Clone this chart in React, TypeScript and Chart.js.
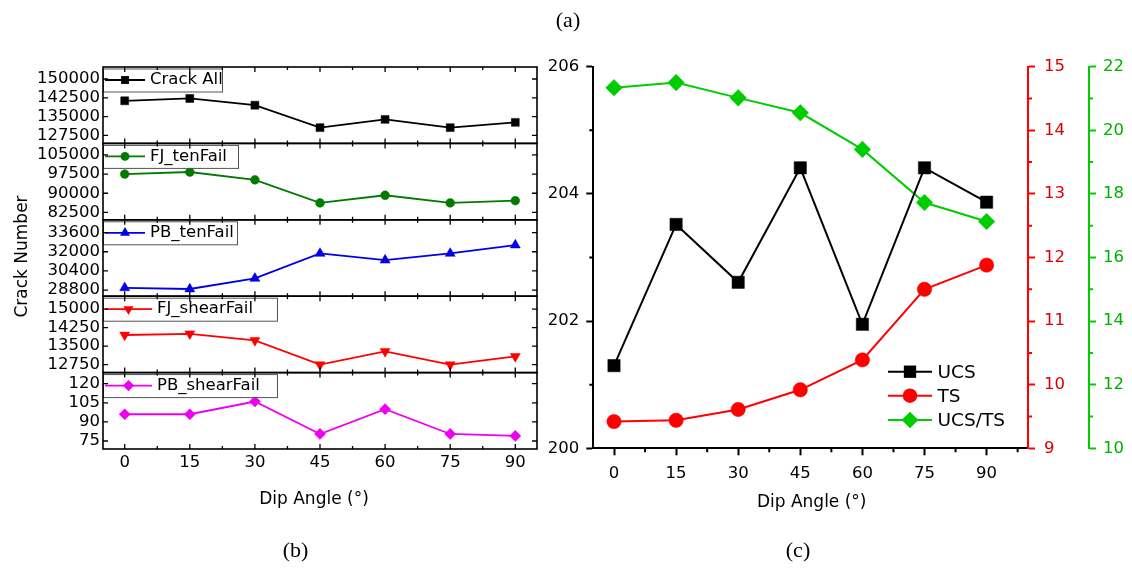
import React, { useEffect, useRef } from 'react';
import { Chart, registerables } from 'chart.js';

Chart.register(...registerables);

// ---------- data ----------
const dipAngles = [0, 15, 30, 45, 60, 75, 90];
const dipTicks = [0, 15, 30, 45, 60, 75, 90];

const crackAll = [141300, 142250, 139560, 130600, 133900, 130600, 132700];
const fjTenFail = [97500, 98300, 95260, 86200, 89200, 86200, 87100];
const pbTenFail = [29000, 28900, 29780, 31860, 31300, 31860, 32560];
const fjShearFail = [13950, 14000, 13730, 12750, 13285, 12750, 13085];
const pbShearFail = [96, 96, 106, 80.5, 100, 80.5, 79];

const crackAllTicks = [127500, 135000, 142500, 150000];
const fjTenTicks = [82500, 90000, 97500, 105000];
const pbTenTicks = [28800, 30400, 32000, 33600];
const fjShearTicks = [12750, 13500, 14250, 15000];
const pbShearTicks = [75, 90, 105, 120];

const ucs = [201.3, 203.52, 202.61, 204.41, 201.95, 204.41, 203.87];
const ts = [9.42, 9.44, 9.61, 9.92, 10.39, 11.5, 11.88];
const ucsTs = [21.34, 21.5, 21.02, 20.55, 19.4, 17.73, 17.13];

const ucsTicks = [200, 202, 204, 206];
const tsTicks = [9, 10, 11, 12, 13, 14, 15];
const ratioTicks = [10, 12, 14, 16, 18, 20, 22];

// ---------- styles ----------
const FONT = '"DejaVu Sans", sans-serif';
Chart.defaults.font.family = FONT;

const leftSeries = [
  { label: 'Crack All', data: crackAll, color: '#000000', shape: 'rect', radius: 5.6, rotation: 0, min: 124300, max: 154800, ticks: crackAllTicks, boxWidth: 119, textX: 47 },
  { label: 'FJ_tenFail', data: fjTenFail, color: '#007a00', shape: 'circle', radius: 4.4, rotation: 0, min: 79600, max: 109500, ticks: fjTenTicks, boxWidth: 135, textX: 47 },
  { label: 'PB_tenFail', data: pbTenFail, color: '#0000e6', shape: 'triangle', radius: 5.8, rotation: 0, min: 28300, max: 34660, ticks: pbTenTicks, boxWidth: 134, textX: 47 },
  { label: 'FJ_shearFail', data: fjShearFail, color: '#ff0000', shape: 'triangle', radius: 5.8, rotation: 180, min: 12430, max: 15520, ticks: fjShearTicks, boxWidth: 174, textX: 54 },
  { label: 'PB_shearFail', data: pbShearFail, color: '#ee00ee', shape: 'rectRot', radius: 5.6, rotation: 0, min: 68.7, max: 128.7, ticks: pbShearTicks, boxWidth: 174, textX: 54 },
];

const rightSeries = [
  { label: 'UCS', data: ucs, axis: 'y', color: '#000000', shape: 'rect', radius: 8.7 },
  { label: 'TS', data: ts, axis: 'y1', color: '#ff0000', shape: 'circle', radius: 7.2 },
  { label: 'UCS/TS', data: ucsTs, axis: 'y2', color: '#00cc00', shape: 'rectRot', radius: 8.3 },
];

const plainLabel = (v: any) => String(v);

function drawMarker(ctx: CanvasRenderingContext2D, shape: string, x: number, y: number, r: number, rotation: number, color: string) {
  ctx.save();
  ctx.translate(x, y);
  ctx.rotate((rotation * Math.PI) / 180);
  ctx.fillStyle = color;
  ctx.beginPath();
  if (shape === 'rect') {
    const s = r * Math.SQRT1_2;
    ctx.rect(-s, -s, 2 * s, 2 * s);
  } else if (shape === 'circle') {
    ctx.arc(0, 0, r, 0, Math.PI * 2);
  } else if (shape === 'triangle') {
    let a = 0;
    ctx.moveTo(Math.sin(a) * r, -Math.cos(a) * r);
    a += (2 * Math.PI) / 3;
    ctx.lineTo(Math.sin(a) * r, -Math.cos(a) * r);
    a += (2 * Math.PI) / 3;
    ctx.lineTo(Math.sin(a) * r, -Math.cos(a) * r);
    ctx.closePath();
  } else if (shape === 'rectRot') {
    ctx.moveTo(-r, 0);
    ctx.lineTo(0, -r);
    ctx.lineTo(r, 0);
    ctx.lineTo(0, r);
    ctx.closePath();
  }
  ctx.fill();
  ctx.restore();
}

const tickFont = { family: FONT, size: 16.5 };

// ---------- left (b) chart ----------
const leftDecor = {
  id: 'leftDecor',
  afterDatasetsDraw(chart: any) {
    const ctx: CanvasRenderingContext2D = chart.ctx;
    const { left, right } = chart.chartArea;
    const xs = chart.scales.x;
    ctx.save();
    leftSeries.forEach((s, i) => {
      const sc = chart.scales['y' + i];
      const top = sc.top;
      const bottom = sc.bottom;
      // legend box
      const bx = left;
      const by = top + 1.5;
      const bh = 23;
      const cy = by + bh / 2;
      ctx.fillStyle = '#ffffff';
      ctx.fillRect(bx, by, s.boxWidth, bh);
      ctx.strokeStyle = '#555555';
      ctx.lineWidth = 1;
      ctx.strokeRect(bx + 0.5, by + 0.5, s.boxWidth, bh);
      ctx.strokeStyle = s.color;
      ctx.lineWidth = 1.8;
      ctx.beginPath();
      ctx.moveTo(bx + 2, cy);
      ctx.lineTo(bx + s.textX - 5, cy);
      ctx.stroke();
      drawMarker(ctx, s.shape, bx + (s.textX - 3) / 2, cy, s.radius, s.rotation, s.color);
      ctx.fillStyle = '#000000';
      ctx.font = `16.5px ${FONT}`;
      ctx.textBaseline = 'middle';
      ctx.textAlign = 'left';
      ctx.fillText(s.label, bx + s.textX, cy);
      // frame
      ctx.strokeStyle = '#000000';
      ctx.lineWidth = 1.6;
      ctx.strokeRect(left, top, right - left, bottom - top);
      // inward ticks
      ctx.lineWidth = 1.3;
      ctx.beginPath();
      s.ticks.forEach((v) => {
        const p = sc.getPixelForValue(v);
        ctx.moveTo(left, p);
        ctx.lineTo(left + 5, p);
        ctx.moveTo(right, p);
        ctx.lineTo(right - 5, p);
      });
      for (let k = 0; k <= 12; k++) {
        const v = k * 7.5;
        const px = xs.getPixelForValue(v);
        const len = k % 2 === 0 ? 5 : 3;
        ctx.moveTo(px, top);
        ctx.lineTo(px, top + len);
        ctx.moveTo(px, bottom);
        ctx.lineTo(px, bottom - len);
      }
      ctx.stroke();
    });
    // axis titles
    ctx.fillStyle = '#000000';
    ctx.font = `17px ${FONT}`;
    ctx.textAlign = 'center';
    ctx.textBaseline = 'alphabetic';
    ctx.fillText('Dip Angle (°)', 314, 503.5);
    ctx.save();
    ctx.translate(27, 256.5);
    ctx.rotate(-Math.PI / 2);
    ctx.fillText('Crack Number', 0, 0);
    ctx.restore();
    ctx.restore();
  },
};

function leftConfig(): any {
  const scales: any = {
    x: {
      type: 'linear',
      position: 'bottom',
      min: -5,
      max: 95,
      afterBuildTicks: (sc: any) => {
        sc.ticks = dipTicks.map((v) => ({ value: v }));
      },
      afterFit: (sc: any) => {
        sc.height = 124;
      },
      grid: { display: false, drawTicks: false },
      border: { display: false },
      ticks: { padding: 4, color: '#000000', font: tickFont, maxRotation: 0, autoSkip: false, callback: plainLabel },
    },
  };
  leftSeries.forEach((s, i) => {
    scales['y' + i] = {
      type: 'linear',
      position: 'left',
      stack: 'crack',
      stackWeight: 1,
      weight: leftSeries.length - i,
      min: s.min,
      max: s.max,
      afterBuildTicks: (sc: any) => {
        sc.ticks = s.ticks.map((v) => ({ value: v }));
      },
      afterFit: (sc: any) => {
        sc.width = 103;
      },
      grid: { display: false, drawTicks: false },
      border: { display: false },
      ticks: { padding: 3, color: '#000000', font: tickFont, autoSkip: false, callback: plainLabel },
    };
  });
  return {
    type: 'line',
    data: {
      datasets: leftSeries.map((s, i) => ({
        label: s.label,
        data: dipAngles.map((x, j) => ({ x, y: s.data[j] })),
        xAxisID: 'x',
        yAxisID: 'y' + i,
        borderColor: s.color,
        backgroundColor: s.color,
        borderWidth: 1.8,
        pointStyle: s.shape,
        pointRotation: s.rotation,
        pointRadius: s.radius,
        pointBackgroundColor: s.color,
        pointBorderColor: s.color,
        pointBorderWidth: 0.5,
        tension: 0,
        fill: false,
      })),
    },
    options: {
      animation: false,
      responsive: true,
      maintainAspectRatio: false,
      events: [],
      layout: { padding: { top: 67, right: 23, bottom: 0, left: 0 } },
      plugins: { legend: { display: false }, tooltip: { enabled: false } },
      scales,
    },
    plugins: [leftDecor],
  };
}

// ---------- right (c) chart ----------
const rightDecor = {
  id: 'rightDecor',
  afterDraw(chart: any) {
    const ctx: CanvasRenderingContext2D = chart.ctx;
    const { x, y, y1, y2 } = chart.scales;
    ctx.save();
    ctx.lineWidth = 2;
    // minor ticks
    ctx.strokeStyle = '#000000';
    ctx.beginPath();
    for (let k = 0; k < 7; k++) {
      const px = x.getPixelForValue(7.5 + 15 * k);
      ctx.moveTo(px, x.top);
      ctx.lineTo(px, x.top + 4);
    }
    [201, 203, 205].forEach((v) => {
      const p = y.getPixelForValue(v);
      ctx.moveTo(y.right, p);
      ctx.lineTo(y.right - 4, p);
    });
    ctx.stroke();
    ctx.strokeStyle = '#ff0000';
    ctx.beginPath();
    for (let v = 9.5; v < 15; v += 1) {
      const p = y1.getPixelForValue(v);
      ctx.moveTo(y1.left, p);
      ctx.lineTo(y1.left + 4, p);
    }
    ctx.stroke();
    ctx.strokeStyle = '#00cc00';
    ctx.beginPath();
    for (let v = 11; v < 22; v += 2) {
      const p = y2.getPixelForValue(v);
      ctx.moveTo(y2.left, p);
      ctx.lineTo(y2.left + 4, p);
    }
    ctx.stroke();
    // legend
    const ly = [371.7, 395.7, 420];
    rightSeries.forEach((s, i) => {
      ctx.strokeStyle = s.color;
      ctx.lineWidth = 2;
      ctx.beginPath();
      ctx.moveTo(348, ly[i]);
      ctx.lineTo(392, ly[i]);
      ctx.stroke();
      drawMarker(ctx, s.shape, 370, ly[i], s.radius, 0, s.color);
      ctx.fillStyle = '#000000';
      ctx.font = `18.5px ${FONT}`;
      ctx.textAlign = 'left';
      ctx.textBaseline = 'middle';
      ctx.fillText(s.label, 397.5, ly[i] + 1);
    });
    // axis title
    ctx.fillStyle = '#000000';
    ctx.font = `17px ${FONT}`;
    ctx.textAlign = 'center';
    ctx.textBaseline = 'alphabetic';
    ctx.fillText('Dip Angle (°)', 271.7, 506.7);
    ctx.restore();
  },
};

function rightConfig(): any {
  const axisCommon = (color: string, labelColor: string, padding: number, width: number, ticks: number[], min: number, max: number, position: string) => ({
    type: 'linear',
    position,
    min,
    max,
    afterBuildTicks: (sc: any) => {
      sc.ticks = ticks.map((v) => ({ value: v }));
    },
    afterFit: (sc: any) => {
      sc.width = width;
    },
    grid: { display: true, drawOnChartArea: false, drawTicks: true, tickLength: 7, tickWidth: 2, tickColor: color, color },
    border: { display: true, color, width: 2 },
    ticks: { padding, color: labelColor, font: tickFont, autoSkip: false, callback: plainLabel },
  });
  return {
    type: 'line',
    data: {
      datasets: rightSeries.map((s) => ({
        label: s.label,
        data: dipAngles.map((xv, j) => ({ x: xv, y: s.data[j] })),
        xAxisID: 'x',
        yAxisID: s.axis,
        borderColor: s.color,
        backgroundColor: s.color,
        borderWidth: 2,
        pointStyle: s.shape,
        pointRadius: s.radius,
        pointBackgroundColor: s.color,
        pointBorderColor: s.color,
        pointBorderWidth: 0.5,
        tension: 0,
        fill: false,
        clip: false,
      })),
    },
    options: {
      animation: false,
      responsive: true,
      maintainAspectRatio: false,
      events: [],
      layout: { padding: { top: 66.7, right: 0, bottom: 0, left: 0 } },
      plugins: { legend: { display: false }, tooltip: { enabled: false } },
      scales: {
        x: {
          type: 'linear',
          position: 'bottom',
          min: -5,
          max: 100,
          afterBuildTicks: (sc: any) => {
            sc.ticks = dipTicks.map((v) => ({ value: v }));
          },
          afterFit: (sc: any) => {
            sc.height = 124.7;
          },
          grid: { display: true, drawOnChartArea: false, drawTicks: true, tickLength: 7, tickWidth: 2, tickColor: '#000000', color: '#000000' },
          border: { display: true, color: '#000000', width: 2 },
          ticks: { padding: 9, color: '#000000', font: tickFont, maxRotation: 0, autoSkip: false, callback: plainLabel },
        },
        y: axisCommon('#000000', '#000000', 7, 53.3, ucsTicks, 200, 206, 'left'),
        y1: axisCommon('#ff0000', '#dd0000', 9, 61, tsTicks, 9, 15, 'right'),
        y2: axisCommon('#00cc00', '#00b000', 7, 43, ratioTicks, 10, 22, 'right'),
      },
    },
    plugins: [rightDecor],
  };
}

function ChartBox({ makeConfig, left, width }: { makeConfig: () => any; left: number; width: number }) {
  const ref = useRef<HTMLCanvasElement>(null);
  useEffect(() => {
    const chart = new Chart(ref.current as HTMLCanvasElement, makeConfig());
    return () => chart.destroy();
  }, []);
  return (
    <div style={{ position: 'absolute', left, top: 0, width, height: 573 }}>
      <canvas ref={ref} style={{ display: 'block' }} />
    </div>
  );
}

const captionStyle = (left: number, top: number): React.CSSProperties => ({
  position: 'absolute',
  left,
  top,
  transform: 'translateX(-50%)',
  fontFamily: '"Liberation Serif", serif',
  fontSize: 22,
  lineHeight: '22px',
  color: '#000',
  whiteSpace: 'nowrap',
});

export default function App() {
  return (
    <div style={{ position: 'fixed', left: 0, top: 0, width: 1132, height: 573, background: '#ffffff', overflow: 'hidden' }}>
      <ChartBox makeConfig={leftConfig} left={0} width={560} />
      <ChartBox makeConfig={rightConfig} left={540} width={592} />
      <div style={captionStyle(568, 9.3)}>(a)</div>
      <div style={captionStyle(295.5, 538.6)}>(b)</div>
      <div style={captionStyle(798, 538.6)}>(c)</div>
    </div>
  );
}
